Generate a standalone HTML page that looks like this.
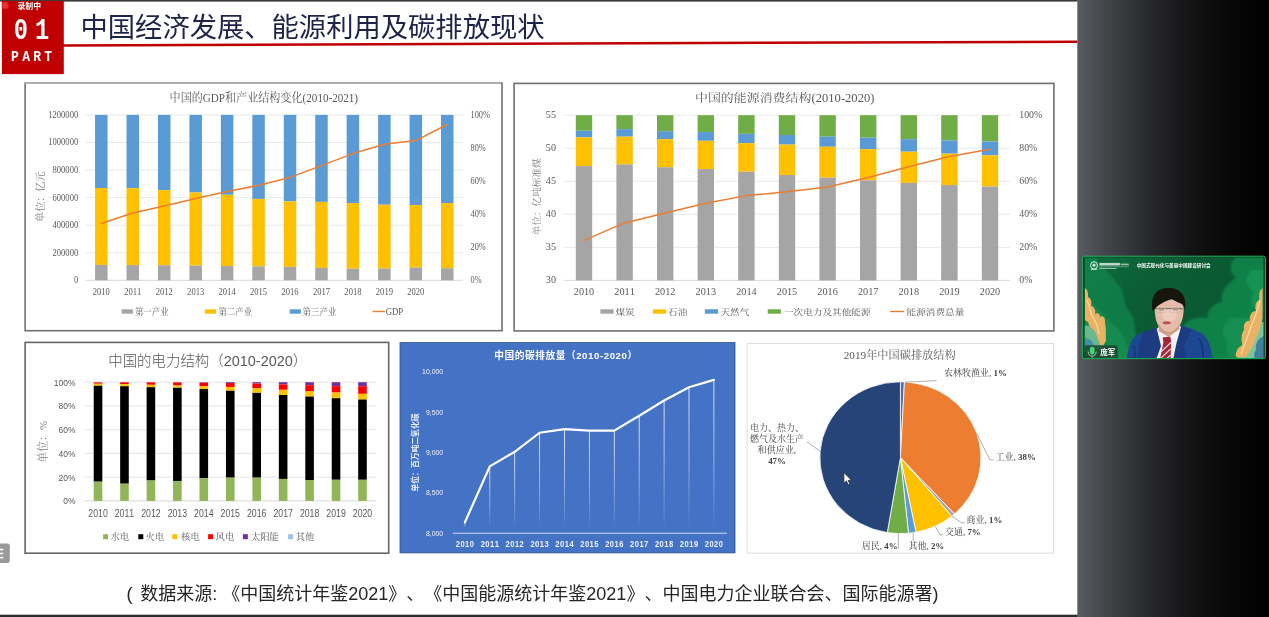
<!DOCTYPE html>
<html lang="zh-CN"><head><meta charset="utf-8"><title>中国经济发展、能源利用及碳排放现状</title>
<style>
html,body{margin:0;padding:0;background:#fff;}
body{width:1269px;height:617px;overflow:hidden;position:relative;font-family:"Liberation Sans", "Noto Sans CJK SC", sans-serif;}
svg{position:absolute;left:0;top:0;display:block;}
text{text-spacing-trim:space-all;font-kerning:none;}
.se{font-family:"Liberation Serif", "Noto Serif CJK SC", serif;}
.sa{font-family:"Liberation Sans", "Noto Sans CJK SC", sans-serif;}
.mo{font-family:"Liberation Mono", "DejaVu Sans Mono", monospace;}
</style></head><body>
<svg width="1269" height="617" viewBox="0 0 1269 617">
<defs>
<linearGradient id="gp" x1="0" y1="0" x2="1" y2="0">
<stop offset="0" stop-color="#585b60"/><stop offset="0.15" stop-color="#434549"/><stop offset="0.38" stop-color="#27282b"/><stop offset="0.6" stop-color="#131314"/><stop offset="0.82" stop-color="#060606"/><stop offset="1" stop-color="#000"/>
</linearGradient>
<linearGradient id="gd" x1="0" y1="0" x2="0" y2="1">
<stop offset="0" stop-color="#fff" stop-opacity="0.9"/><stop offset="0.6" stop-color="#fff" stop-opacity="0.45"/><stop offset="1" stop-color="#fff" stop-opacity="0.03"/>
</linearGradient>
</defs>
<rect x="0" y="0" width="1269" height="617" fill="#fff"/>

<rect x="0" y="0" width="1077.5" height="1.6" fill="#3a3a3a"/>
<polygon points="63,44.3 1077.4,40.4 1077.4,42.9 63,46.8" fill="#c00000"/>
<rect x="1.9" y="1" width="61.9" height="73.1" fill="#c00000"/>
<text class="mo" transform="translate(20.95 38.90) scale(0.7800 1)" font-size="30.4" fill="#fff" text-anchor="middle" font-weight="bold" >0</text>
<text class="mo" transform="translate(42.10 38.90) scale(0.7800 1)" font-size="30.4" fill="#fff" text-anchor="middle" font-weight="bold" >1</text>
<text class="mo" transform="translate(15.00 61.20) scale(0.9200 1)" font-size="14.2" fill="#fff" text-anchor="middle" font-weight="bold" >P</text>
<text class="mo" transform="translate(26.05 61.20) scale(0.9200 1)" font-size="14.2" fill="#fff" text-anchor="middle" font-weight="bold" >A</text>
<text class="mo" transform="translate(37.10 61.20) scale(0.9200 1)" font-size="14.2" fill="#fff" text-anchor="middle" font-weight="bold" >R</text>
<text class="mo" transform="translate(48.15 61.20) scale(0.9200 1)" font-size="14.2" fill="#fff" text-anchor="middle" font-weight="bold" >T</text>
<circle cx="5.2" cy="5.5" r="3.7" fill="#e94040" opacity="0.55"/><circle cx="5.2" cy="5.5" r="2.5" fill="#f03030"/>
<text class="sa" x="17.40" y="8.90" font-size="7.9" fill="#fff" text-anchor="start" font-weight="bold" stroke="#5a0000" stroke-width="0.25" paint-order="stroke">录制中</text>
<text class="sa" x="80.50" y="37.20" font-size="27.3" fill="#1d2447" text-anchor="start" >中国经济发展、能源利用及碳排放现状</text>
<rect x="1077.3" y="0" width="191.7" height="617" fill="url(#gp)"/>
<rect x="0" y="614.7" width="1077.5" height="2.3" fill="#2b2c2f"/>
<rect x="-3" y="543.5" width="12.8" height="19.5" rx="2.2" fill="#9a9a9a"/>
<rect x="0" y="548.7" width="3.3" height="1.6" fill="#fff"/>
<rect x="0" y="552.7" width="3.3" height="1.6" fill="#fff"/>
<rect x="0" y="556.8" width="3.3" height="1.6" fill="#fff"/>
<text class="sa" x="126.60" y="599.60" font-size="18" fill="#262626" text-anchor="start" >(</text>
<text class="sa" x="140.30" y="599.60" font-size="18" fill="#262626" text-anchor="start" >数据来源: 《中国统计年鉴2021》、《中国能源统计年鉴2021》、中国电力企业联合会、国际能源署)</text>
<g id="c1">
<rect x="25.1" y="83.1" width="476.9" height="247.6" fill="#fff" stroke="#707070" stroke-width="1.6"/><rect x="25.1" y="82.3" width="476" height="1.6" fill="#b4b4b4"/>
<line x1="85.6" y1="280.30" x2="463.0" y2="280.30" stroke="#d0d0d0" stroke-width="0.8"/>
<text class="se" transform="translate(78.20 283.30) scale(0.8750 1)" font-size="9.8" fill="#595959" text-anchor="end" >0</text>
<line x1="85.6" y1="252.73" x2="463.0" y2="252.73" stroke="#e3e3e3" stroke-width="0.8"/>
<text class="se" transform="translate(78.20 255.73) scale(0.8750 1)" font-size="9.8" fill="#595959" text-anchor="end" >200000</text>
<line x1="85.6" y1="225.17" x2="463.0" y2="225.17" stroke="#e3e3e3" stroke-width="0.8"/>
<text class="se" transform="translate(78.20 228.17) scale(0.8750 1)" font-size="9.8" fill="#595959" text-anchor="end" >400000</text>
<line x1="85.6" y1="197.60" x2="463.0" y2="197.60" stroke="#e3e3e3" stroke-width="0.8"/>
<text class="se" transform="translate(78.20 200.60) scale(0.8750 1)" font-size="9.8" fill="#595959" text-anchor="end" >600000</text>
<line x1="85.6" y1="170.03" x2="463.0" y2="170.03" stroke="#e3e3e3" stroke-width="0.8"/>
<text class="se" transform="translate(78.20 173.03) scale(0.8750 1)" font-size="9.8" fill="#595959" text-anchor="end" >800000</text>
<line x1="85.6" y1="142.47" x2="463.0" y2="142.47" stroke="#e3e3e3" stroke-width="0.8"/>
<text class="se" transform="translate(78.20 145.47) scale(0.8750 1)" font-size="9.8" fill="#595959" text-anchor="end" >1000000</text>
<line x1="85.6" y1="114.90" x2="463.0" y2="114.90" stroke="#e3e3e3" stroke-width="0.8"/>
<text class="se" transform="translate(78.20 117.90) scale(0.8750 1)" font-size="9.8" fill="#595959" text-anchor="end" >1200000</text>
<text class="se" transform="translate(470.50 283.30) scale(0.8450 1)" font-size="9.8" fill="#595959" text-anchor="start" >0%</text>
<text class="se" transform="translate(470.50 250.22) scale(0.8450 1)" font-size="9.8" fill="#595959" text-anchor="start" >20%</text>
<text class="se" transform="translate(470.50 217.14) scale(0.8450 1)" font-size="9.8" fill="#595959" text-anchor="start" >40%</text>
<text class="se" transform="translate(470.50 184.06) scale(0.8450 1)" font-size="9.8" fill="#595959" text-anchor="start" >60%</text>
<text class="se" transform="translate(470.50 150.98) scale(0.8450 1)" font-size="9.8" fill="#595959" text-anchor="start" >80%</text>
<text class="se" transform="translate(470.50 117.90) scale(0.8450 1)" font-size="9.8" fill="#595959" text-anchor="start" >100%</text>
<rect x="95.07" y="114.90" width="12.50" height="73.11" fill="#5b9bd5"/>
<rect x="95.07" y="188.01" width="12.50" height="76.91" fill="#ffc000"/>
<rect x="95.07" y="264.92" width="12.50" height="15.38" fill="#a5a5a5"/>
<text class="se" transform="translate(101.32 294.90) scale(0.8650 1)" font-size="9.9" fill="#595959" text-anchor="middle" >2010</text>
<rect x="126.52" y="114.90" width="12.50" height="73.27" fill="#5b9bd5"/>
<rect x="126.52" y="188.17" width="12.50" height="76.91" fill="#ffc000"/>
<rect x="126.52" y="265.08" width="12.50" height="15.22" fill="#a5a5a5"/>
<text class="se" transform="translate(132.77 294.90) scale(0.8650 1)" font-size="9.9" fill="#595959" text-anchor="middle" >2011</text>
<rect x="157.97" y="114.90" width="12.50" height="75.26" fill="#5b9bd5"/>
<rect x="157.97" y="190.16" width="12.50" height="75.09" fill="#ffc000"/>
<rect x="157.97" y="265.25" width="12.50" height="15.05" fill="#a5a5a5"/>
<text class="se" transform="translate(164.22 294.90) scale(0.8650 1)" font-size="9.9" fill="#595959" text-anchor="middle" >2012</text>
<rect x="189.43" y="114.90" width="12.50" height="77.57" fill="#5b9bd5"/>
<rect x="189.43" y="192.47" width="12.50" height="73.11" fill="#ffc000"/>
<rect x="189.43" y="265.58" width="12.50" height="14.72" fill="#a5a5a5"/>
<text class="se" transform="translate(195.68 294.90) scale(0.8650 1)" font-size="9.9" fill="#595959" text-anchor="middle" >2013</text>
<rect x="220.88" y="114.90" width="12.50" height="79.89" fill="#5b9bd5"/>
<rect x="220.88" y="194.79" width="12.50" height="71.29" fill="#ffc000"/>
<rect x="220.88" y="266.08" width="12.50" height="14.22" fill="#a5a5a5"/>
<text class="se" transform="translate(227.12 294.90) scale(0.8650 1)" font-size="9.9" fill="#595959" text-anchor="middle" >2014</text>
<rect x="252.32" y="114.90" width="12.50" height="84.02" fill="#5b9bd5"/>
<rect x="252.32" y="198.92" width="12.50" height="67.48" fill="#ffc000"/>
<rect x="252.32" y="266.41" width="12.50" height="13.89" fill="#a5a5a5"/>
<text class="se" transform="translate(258.57 294.90) scale(0.8650 1)" font-size="9.9" fill="#595959" text-anchor="middle" >2015</text>
<rect x="283.77" y="114.90" width="12.50" height="86.50" fill="#5b9bd5"/>
<rect x="283.77" y="201.40" width="12.50" height="65.50" fill="#ffc000"/>
<rect x="283.77" y="266.90" width="12.50" height="13.40" fill="#a5a5a5"/>
<text class="se" transform="translate(290.02 294.90) scale(0.8650 1)" font-size="9.9" fill="#595959" text-anchor="middle" >2016</text>
<rect x="315.23" y="114.90" width="12.50" height="87.00" fill="#5b9bd5"/>
<rect x="315.23" y="201.90" width="12.50" height="65.99" fill="#ffc000"/>
<rect x="315.23" y="267.89" width="12.50" height="12.40" fill="#a5a5a5"/>
<text class="se" transform="translate(321.48 294.90) scale(0.8650 1)" font-size="9.9" fill="#595959" text-anchor="middle" >2017</text>
<rect x="346.67" y="114.90" width="12.50" height="88.16" fill="#5b9bd5"/>
<rect x="346.67" y="203.06" width="12.50" height="65.66" fill="#ffc000"/>
<rect x="346.67" y="268.72" width="12.50" height="11.58" fill="#a5a5a5"/>
<text class="se" transform="translate(352.92 294.90) scale(0.8650 1)" font-size="9.9" fill="#595959" text-anchor="middle" >2018</text>
<rect x="378.12" y="114.90" width="12.50" height="89.81" fill="#5b9bd5"/>
<rect x="378.12" y="204.71" width="12.50" height="63.84" fill="#ffc000"/>
<rect x="378.12" y="268.56" width="12.50" height="11.74" fill="#a5a5a5"/>
<text class="se" transform="translate(384.38 294.90) scale(0.8650 1)" font-size="9.9" fill="#595959" text-anchor="middle" >2019</text>
<rect x="409.57" y="114.90" width="12.50" height="90.14" fill="#5b9bd5"/>
<rect x="409.57" y="205.04" width="12.50" height="62.52" fill="#ffc000"/>
<rect x="409.57" y="267.56" width="12.50" height="12.74" fill="#a5a5a5"/>
<text class="se" transform="translate(415.82 294.90) scale(0.8650 1)" font-size="9.9" fill="#595959" text-anchor="middle" >2020</text>
<rect x="441.02" y="114.90" width="12.50" height="88.16" fill="#5b9bd5"/>
<rect x="441.02" y="203.06" width="12.50" height="65.17" fill="#ffc000"/>
<rect x="441.02" y="268.23" width="12.50" height="12.07" fill="#a5a5a5"/>
<polyline points="101.32,223.50 132.77,213.05 164.22,206.07 195.68,198.57 227.12,191.60 258.57,185.35 290.02,177.42 321.48,165.62 352.92,153.59 384.38,144.33 415.82,140.60 447.27,124.48" fill="none" stroke="#ed7d31" stroke-width="1.5" stroke-linejoin="round" stroke-linecap="round"/>
<text class="se" transform="translate(263.80 101.70) scale(0.9250 1)" font-size="12.0" fill="#595959" text-anchor="middle" >中国的GDP和产业结构变化(2010-2021)</text>
<text class="se" transform="translate(44.20 196.70) rotate(-90)" font-size="10.1" fill="#808080" text-anchor="middle" >单位：亿元</text>
<rect x="121.7" y="309.3" width="11.2" height="4.4" fill="#a5a5a5"/>
<text class="se" transform="translate(134.90 314.50) scale(0.9300 1)" font-size="9.1" fill="#595959" text-anchor="start" >第一产业</text>
<rect x="204.9" y="309.3" width="11.2" height="4.4" fill="#ffc000"/>
<text class="se" transform="translate(218.40 314.50) scale(0.9300 1)" font-size="9.1" fill="#595959" text-anchor="start" >第二产业</text>
<rect x="289.7" y="309.3" width="11.2" height="4.4" fill="#5b9bd5"/>
<text class="se" transform="translate(302.60 314.50) scale(0.9300 1)" font-size="9.1" fill="#595959" text-anchor="start" >第三产业</text>
<line x1="372.5" y1="311.5" x2="384.9" y2="311.5" stroke="#ed7d31" stroke-width="1.4"/>
<text class="se" transform="translate(385.70 314.50) scale(0.9000 1)" font-size="9.7" fill="#595959" text-anchor="start" >GDP</text>
</g>
<g id="c2">
<rect x="514.1" y="83.4" width="539.8" height="247.5" fill="#fff" stroke="#707070" stroke-width="1.6"/>
<line x1="563.7" y1="280.40" x2="1010.3" y2="280.40" stroke="#d0d0d0" stroke-width="0.8"/>
<text class="se" transform="translate(556.00 283.40) scale(1.0350 1)" font-size="9.8" fill="#595959" text-anchor="end" >30</text>
<text class="se" transform="translate(1019.30 283.40) scale(1.0000 1)" font-size="9.8" fill="#595959" text-anchor="start" >0%</text>
<line x1="563.7" y1="247.36" x2="1010.3" y2="247.36" stroke="#e3e3e3" stroke-width="0.8"/>
<text class="se" transform="translate(556.00 250.36) scale(1.0350 1)" font-size="9.8" fill="#595959" text-anchor="end" >35</text>
<text class="se" transform="translate(1019.30 250.36) scale(1.0000 1)" font-size="9.8" fill="#595959" text-anchor="start" >20%</text>
<line x1="563.7" y1="214.32" x2="1010.3" y2="214.32" stroke="#e3e3e3" stroke-width="0.8"/>
<text class="se" transform="translate(556.00 217.32) scale(1.0350 1)" font-size="9.8" fill="#595959" text-anchor="end" >40</text>
<text class="se" transform="translate(1019.30 217.32) scale(1.0000 1)" font-size="9.8" fill="#595959" text-anchor="start" >40%</text>
<line x1="563.7" y1="181.28" x2="1010.3" y2="181.28" stroke="#e3e3e3" stroke-width="0.8"/>
<text class="se" transform="translate(556.00 184.28) scale(1.0350 1)" font-size="9.8" fill="#595959" text-anchor="end" >45</text>
<text class="se" transform="translate(1019.30 184.28) scale(1.0000 1)" font-size="9.8" fill="#595959" text-anchor="start" >60%</text>
<line x1="563.7" y1="148.24" x2="1010.3" y2="148.24" stroke="#e3e3e3" stroke-width="0.8"/>
<text class="se" transform="translate(556.00 151.24) scale(1.0350 1)" font-size="9.8" fill="#595959" text-anchor="end" >50</text>
<text class="se" transform="translate(1019.30 151.24) scale(1.0000 1)" font-size="9.8" fill="#595959" text-anchor="start" >80%</text>
<line x1="563.7" y1="115.20" x2="1010.3" y2="115.20" stroke="#e3e3e3" stroke-width="0.8"/>
<text class="se" transform="translate(556.00 118.20) scale(1.0350 1)" font-size="9.8" fill="#595959" text-anchor="end" >55</text>
<text class="se" transform="translate(1019.30 118.20) scale(1.0000 1)" font-size="9.8" fill="#595959" text-anchor="start" >100%</text>
<rect x="575.80" y="115.20" width="16.40" height="15.53" fill="#70ad47"/>
<rect x="575.80" y="130.73" width="16.40" height="6.61" fill="#5b9bd5"/>
<rect x="575.80" y="137.34" width="16.40" height="28.74" fill="#ffc000"/>
<rect x="575.80" y="166.08" width="16.40" height="114.32" fill="#a5a5a5"/>
<text class="se" transform="translate(584.00 294.90) scale(1.0350 1)" font-size="9.9" fill="#595959" text-anchor="middle" >2010</text>
<rect x="616.40" y="115.20" width="16.40" height="13.88" fill="#70ad47"/>
<rect x="616.40" y="129.08" width="16.40" height="7.60" fill="#5b9bd5"/>
<rect x="616.40" y="136.68" width="16.40" height="27.75" fill="#ffc000"/>
<rect x="616.40" y="164.43" width="16.40" height="115.97" fill="#a5a5a5"/>
<text class="se" transform="translate(624.60 294.90) scale(1.0350 1)" font-size="9.9" fill="#595959" text-anchor="middle" >2011</text>
<rect x="657.00" y="115.20" width="16.40" height="16.02" fill="#70ad47"/>
<rect x="657.00" y="131.22" width="16.40" height="7.93" fill="#5b9bd5"/>
<rect x="657.00" y="139.15" width="16.40" height="28.08" fill="#ffc000"/>
<rect x="657.00" y="167.24" width="16.40" height="113.16" fill="#a5a5a5"/>
<text class="se" transform="translate(665.20 294.90) scale(1.0350 1)" font-size="9.9" fill="#595959" text-anchor="middle" >2012</text>
<rect x="697.60" y="115.20" width="16.40" height="16.85" fill="#70ad47"/>
<rect x="697.60" y="132.05" width="16.40" height="8.76" fill="#5b9bd5"/>
<rect x="697.60" y="140.81" width="16.40" height="28.25" fill="#ffc000"/>
<rect x="697.60" y="169.06" width="16.40" height="111.34" fill="#a5a5a5"/>
<text class="se" transform="translate(705.80 294.90) scale(1.0350 1)" font-size="9.9" fill="#595959" text-anchor="middle" >2013</text>
<rect x="738.20" y="115.20" width="16.40" height="18.67" fill="#70ad47"/>
<rect x="738.20" y="133.87" width="16.40" height="9.25" fill="#5b9bd5"/>
<rect x="738.20" y="143.12" width="16.40" height="28.58" fill="#ffc000"/>
<rect x="738.20" y="171.70" width="16.40" height="108.70" fill="#a5a5a5"/>
<text class="se" transform="translate(746.40 294.90) scale(1.0350 1)" font-size="9.9" fill="#595959" text-anchor="middle" >2014</text>
<rect x="778.80" y="115.20" width="16.40" height="19.82" fill="#70ad47"/>
<rect x="778.80" y="135.02" width="16.40" height="9.58" fill="#5b9bd5"/>
<rect x="778.80" y="144.61" width="16.40" height="30.40" fill="#ffc000"/>
<rect x="778.80" y="175.00" width="16.40" height="105.40" fill="#a5a5a5"/>
<text class="se" transform="translate(787.00 294.90) scale(1.0350 1)" font-size="9.9" fill="#595959" text-anchor="middle" >2015</text>
<rect x="819.40" y="115.20" width="16.40" height="21.48" fill="#70ad47"/>
<rect x="819.40" y="136.68" width="16.40" height="10.08" fill="#5b9bd5"/>
<rect x="819.40" y="146.75" width="16.40" height="30.89" fill="#ffc000"/>
<rect x="819.40" y="177.65" width="16.40" height="102.75" fill="#a5a5a5"/>
<text class="se" transform="translate(827.60 294.90) scale(1.0350 1)" font-size="9.9" fill="#595959" text-anchor="middle" >2016</text>
<rect x="860.00" y="115.20" width="16.40" height="22.47" fill="#70ad47"/>
<rect x="860.00" y="137.67" width="16.40" height="11.40" fill="#5b9bd5"/>
<rect x="860.00" y="149.07" width="16.40" height="31.22" fill="#ffc000"/>
<rect x="860.00" y="180.29" width="16.40" height="100.11" fill="#a5a5a5"/>
<text class="se" transform="translate(868.20 294.90) scale(1.0350 1)" font-size="9.9" fill="#595959" text-anchor="middle" >2017</text>
<rect x="900.60" y="115.20" width="16.40" height="23.95" fill="#70ad47"/>
<rect x="900.60" y="139.15" width="16.40" height="12.56" fill="#5b9bd5"/>
<rect x="900.60" y="151.71" width="16.40" height="31.22" fill="#ffc000"/>
<rect x="900.60" y="182.93" width="16.40" height="97.47" fill="#a5a5a5"/>
<text class="se" transform="translate(908.80 294.90) scale(1.0350 1)" font-size="9.9" fill="#595959" text-anchor="middle" >2018</text>
<rect x="941.20" y="115.20" width="16.40" height="25.28" fill="#70ad47"/>
<rect x="941.20" y="140.48" width="16.40" height="13.22" fill="#5b9bd5"/>
<rect x="941.20" y="153.69" width="16.40" height="31.39" fill="#ffc000"/>
<rect x="941.20" y="185.08" width="16.40" height="95.32" fill="#a5a5a5"/>
<text class="se" transform="translate(949.40 294.90) scale(1.0350 1)" font-size="9.9" fill="#595959" text-anchor="middle" >2019</text>
<rect x="981.80" y="115.20" width="16.40" height="26.27" fill="#70ad47"/>
<rect x="981.80" y="141.47" width="16.40" height="13.88" fill="#5b9bd5"/>
<rect x="981.80" y="155.34" width="16.40" height="31.22" fill="#ffc000"/>
<rect x="981.80" y="186.57" width="16.40" height="93.83" fill="#a5a5a5"/>
<text class="se" transform="translate(990.00 294.90) scale(1.0350 1)" font-size="9.9" fill="#595959" text-anchor="middle" >2020</text>
<polyline points="584.00,240.36 624.60,222.91 665.20,212.93 705.80,203.15 746.40,195.62 787.00,191.79 827.60,186.90 868.20,177.45 908.80,166.81 949.40,156.50 990.00,149.36" fill="none" stroke="#ed7d31" stroke-width="1.5" stroke-linejoin="round" stroke-linecap="round"/>
<text class="se" transform="translate(695.00 101.50) scale(1.1660 1)" font-size="11.1" fill="#595959" text-anchor="start" >中国的能源消费结构</text>
<text class="se" transform="translate(811.60 101.70) scale(1.0300 1)" font-size="12.2" fill="#595959" text-anchor="start" >(2010-2020)</text>
<text class="se" transform="translate(539.90 196.80) rotate(-90)" font-size="9.6" fill="#808080" text-anchor="middle" >单位：亿吨标准煤</text>
<rect x="600.4" y="309.3" width="13.2" height="4.4" fill="#a5a5a5"/>
<text class="se" transform="translate(615.40 314.60) scale(1.1340 1)" font-size="8.5" fill="#595959" text-anchor="start" >煤炭</text>
<rect x="653.0" y="309.3" width="13.2" height="4.4" fill="#ffc000"/>
<text class="se" transform="translate(668.00 314.60) scale(1.1340 1)" font-size="8.5" fill="#595959" text-anchor="start" >石油</text>
<rect x="704.9" y="309.3" width="13.2" height="4.4" fill="#5b9bd5"/>
<text class="se" transform="translate(720.40 314.60) scale(1.1340 1)" font-size="8.5" fill="#595959" text-anchor="start" >天然气</text>
<rect x="767.7" y="309.3" width="13.2" height="4.4" fill="#70ad47"/>
<text class="se" transform="translate(783.90 314.60) scale(1.1340 1)" font-size="8.5" fill="#595959" text-anchor="start" >一次电力及其他能源</text>
<line x1="890.2" y1="311.5" x2="904" y2="311.5" stroke="#ed7d31" stroke-width="1.4"/>
<text class="se" transform="translate(906.50 314.60) scale(1.1340 1)" font-size="8.5" fill="#595959" text-anchor="start" >能源消费总量</text>
</g>
<g id="c3">
<rect x="25.1" y="342.4" width="363.6" height="210.8" fill="#fff" stroke="#666" stroke-width="1.6"/>
<line x1="84.8" y1="500.90" x2="375.7" y2="500.90" stroke="#d4d4d4" stroke-width="0.9"/>
<text class="sa" transform="translate(75.40 504.30) scale(0.8700 1)" font-size="9.7" fill="#595959" text-anchor="end" >0%</text>
<line x1="84.8" y1="477.16" x2="375.7" y2="477.16" stroke="#e1e1e1" stroke-width="0.9"/>
<text class="sa" transform="translate(75.40 480.56) scale(0.8700 1)" font-size="9.7" fill="#595959" text-anchor="end" >20%</text>
<line x1="84.8" y1="453.42" x2="375.7" y2="453.42" stroke="#e1e1e1" stroke-width="0.9"/>
<text class="sa" transform="translate(75.40 456.82) scale(0.8700 1)" font-size="9.7" fill="#595959" text-anchor="end" >40%</text>
<line x1="84.8" y1="429.68" x2="375.7" y2="429.68" stroke="#e1e1e1" stroke-width="0.9"/>
<text class="sa" transform="translate(75.40 433.08) scale(0.8700 1)" font-size="9.7" fill="#595959" text-anchor="end" >60%</text>
<line x1="84.8" y1="405.94" x2="375.7" y2="405.94" stroke="#e1e1e1" stroke-width="0.9"/>
<text class="sa" transform="translate(75.40 409.34) scale(0.8700 1)" font-size="9.7" fill="#595959" text-anchor="end" >80%</text>
<line x1="84.8" y1="382.20" x2="375.7" y2="382.20" stroke="#e1e1e1" stroke-width="0.9"/>
<text class="sa" transform="translate(75.40 385.60) scale(0.8700 1)" font-size="9.7" fill="#595959" text-anchor="end" >100%</text>
<rect x="93.72" y="382.20" width="8.60" height="0.24" fill="#7030a0"/>
<rect x="93.72" y="382.44" width="8.60" height="1.31" fill="#ff0000"/>
<rect x="93.72" y="383.74" width="8.60" height="2.02" fill="#ffc000"/>
<rect x="93.72" y="385.76" width="8.60" height="95.91" fill="#000000"/>
<rect x="93.72" y="481.67" width="8.60" height="19.23" fill="#92b558"/>
<text class="sa" transform="translate(98.02 517.40) scale(0.8750 1)" font-size="10.0" fill="#595959" text-anchor="middle" >2010</text>
<rect x="120.17" y="382.20" width="8.60" height="0.12" fill="#7030a0"/>
<rect x="120.17" y="382.32" width="8.60" height="1.78" fill="#ff0000"/>
<rect x="120.17" y="384.10" width="8.60" height="2.14" fill="#ffc000"/>
<rect x="120.17" y="386.24" width="8.60" height="97.45" fill="#000000"/>
<rect x="120.17" y="483.69" width="8.60" height="17.21" fill="#92b558"/>
<text class="sa" transform="translate(124.47 517.40) scale(0.8750 1)" font-size="10.0" fill="#595959" text-anchor="middle" >2011</text>
<rect x="146.61" y="382.20" width="8.60" height="0.12" fill="#7030a0"/>
<rect x="146.61" y="382.32" width="8.60" height="2.49" fill="#ff0000"/>
<rect x="146.61" y="384.81" width="8.60" height="2.37" fill="#ffc000"/>
<rect x="146.61" y="387.19" width="8.60" height="93.30" fill="#000000"/>
<rect x="146.61" y="480.48" width="8.60" height="20.42" fill="#92b558"/>
<text class="sa" transform="translate(150.91 517.40) scale(0.8750 1)" font-size="10.0" fill="#595959" text-anchor="middle" >2012</text>
<rect x="173.06" y="382.20" width="8.60" height="0.24" fill="#7030a0"/>
<rect x="173.06" y="382.44" width="8.60" height="2.97" fill="#ff0000"/>
<rect x="173.06" y="385.40" width="8.60" height="2.37" fill="#ffc000"/>
<rect x="173.06" y="387.78" width="8.60" height="93.18" fill="#000000"/>
<rect x="173.06" y="480.96" width="8.60" height="19.94" fill="#92b558"/>
<text class="sa" transform="translate(177.36 517.40) scale(0.8750 1)" font-size="10.0" fill="#595959" text-anchor="middle" >2013</text>
<rect x="199.50" y="382.20" width="8.60" height="0.12" fill="#9dc3e6"/>
<rect x="199.50" y="382.32" width="8.60" height="0.59" fill="#7030a0"/>
<rect x="199.50" y="382.91" width="8.60" height="3.44" fill="#ff0000"/>
<rect x="199.50" y="386.35" width="8.60" height="2.73" fill="#ffc000"/>
<rect x="199.50" y="389.08" width="8.60" height="89.26" fill="#000000"/>
<rect x="199.50" y="478.35" width="8.60" height="22.55" fill="#92b558"/>
<text class="sa" transform="translate(203.80 517.40) scale(0.8750 1)" font-size="10.0" fill="#595959" text-anchor="middle" >2014</text>
<rect x="225.95" y="382.20" width="8.60" height="0.83" fill="#7030a0"/>
<rect x="225.95" y="383.03" width="8.60" height="3.92" fill="#ff0000"/>
<rect x="225.95" y="386.95" width="8.60" height="3.80" fill="#ffc000"/>
<rect x="225.95" y="390.75" width="8.60" height="86.89" fill="#000000"/>
<rect x="225.95" y="477.63" width="8.60" height="23.27" fill="#92b558"/>
<text class="sa" transform="translate(230.25 517.40) scale(0.8750 1)" font-size="10.0" fill="#595959" text-anchor="middle" >2015</text>
<rect x="252.40" y="382.20" width="8.60" height="1.42" fill="#7030a0"/>
<rect x="252.40" y="383.62" width="8.60" height="4.51" fill="#ff0000"/>
<rect x="252.40" y="388.13" width="8.60" height="4.75" fill="#ffc000"/>
<rect x="252.40" y="392.88" width="8.60" height="84.75" fill="#000000"/>
<rect x="252.40" y="477.63" width="8.60" height="23.27" fill="#92b558"/>
<text class="sa" transform="translate(256.70 517.40) scale(0.8750 1)" font-size="10.0" fill="#595959" text-anchor="middle" >2016</text>
<rect x="278.84" y="382.20" width="8.60" height="2.26" fill="#7030a0"/>
<rect x="278.84" y="384.46" width="8.60" height="5.34" fill="#ff0000"/>
<rect x="278.84" y="389.80" width="8.60" height="5.22" fill="#ffc000"/>
<rect x="278.84" y="395.02" width="8.60" height="83.92" fill="#000000"/>
<rect x="278.84" y="478.94" width="8.60" height="21.96" fill="#92b558"/>
<text class="sa" transform="translate(283.14 517.40) scale(0.8750 1)" font-size="10.0" fill="#595959" text-anchor="middle" >2017</text>
<rect x="305.29" y="382.20" width="8.60" height="2.97" fill="#7030a0"/>
<rect x="305.29" y="385.17" width="8.60" height="6.29" fill="#ff0000"/>
<rect x="305.29" y="391.46" width="8.60" height="5.10" fill="#ffc000"/>
<rect x="305.29" y="396.56" width="8.60" height="83.45" fill="#000000"/>
<rect x="305.29" y="480.01" width="8.60" height="20.89" fill="#92b558"/>
<text class="sa" transform="translate(309.59 517.40) scale(0.8750 1)" font-size="10.0" fill="#595959" text-anchor="middle" >2018</text>
<rect x="331.73" y="382.20" width="8.60" height="3.92" fill="#7030a0"/>
<rect x="331.73" y="386.12" width="8.60" height="6.41" fill="#ff0000"/>
<rect x="331.73" y="392.53" width="8.60" height="5.70" fill="#ffc000"/>
<rect x="331.73" y="398.22" width="8.60" height="81.55" fill="#000000"/>
<rect x="331.73" y="479.77" width="8.60" height="21.13" fill="#92b558"/>
<text class="sa" transform="translate(336.03 517.40) scale(0.8750 1)" font-size="10.0" fill="#595959" text-anchor="middle" >2019</text>
<rect x="358.18" y="382.20" width="8.60" height="4.04" fill="#7030a0"/>
<rect x="358.18" y="386.24" width="8.60" height="7.60" fill="#ff0000"/>
<rect x="358.18" y="393.83" width="8.60" height="5.70" fill="#ffc000"/>
<rect x="358.18" y="399.53" width="8.60" height="80.24" fill="#000000"/>
<rect x="358.18" y="479.77" width="8.60" height="21.13" fill="#92b558"/>
<text class="sa" transform="translate(362.48 517.40) scale(0.8750 1)" font-size="10.0" fill="#595959" text-anchor="middle" >2020</text>
<text class="sa" x="207.70" y="366.00" font-size="14.45" fill="#595959" text-anchor="middle" font-weight="300" >中国的电力结构（2010-2020）</text>
<text class="se" transform="translate(47.20 441.80) rotate(-90)" font-size="10.9" fill="#808080" text-anchor="middle" >单位：%</text>
<rect x="103.1" y="534.2" width="5" height="5" fill="#92b558"/>
<text class="se" x="110.50" y="540.00" font-size="9.3" fill="#595959" text-anchor="start" >水电</text>
<rect x="138.3" y="534.2" width="5" height="5" fill="#000"/>
<text class="se" x="145.50" y="540.00" font-size="9.3" fill="#595959" text-anchor="start" >火电</text>
<rect x="172.3" y="534.2" width="5" height="5" fill="#ffc000"/>
<text class="se" x="181.10" y="540.00" font-size="9.3" fill="#595959" text-anchor="start" >核电</text>
<rect x="208.1" y="534.2" width="5" height="5" fill="#ff0000"/>
<text class="se" x="215.60" y="540.00" font-size="9.3" fill="#595959" text-anchor="start" >风电</text>
<rect x="242.9" y="534.2" width="5" height="5" fill="#7030a0"/>
<text class="se" x="251.00" y="540.00" font-size="9.3" fill="#595959" text-anchor="start" >太阳能</text>
<rect x="288.1" y="534.2" width="5" height="5" fill="#9dc3e6"/>
<text class="se" x="295.70" y="540.00" font-size="9.3" fill="#595959" text-anchor="start" >其他</text>
</g>
<g id="c4">
<rect x="400" y="342.6" width="335" height="210.3" fill="#4472c4" stroke="#2f4f8f" stroke-width="0.8"/>
<rect x="464.45" y="522.25" width="0.9" height="4.95" fill="url(#gd)"/>
<rect x="489.35" y="466.42" width="0.9" height="60.78" fill="url(#gd)"/>
<rect x="514.25" y="451.76" width="0.9" height="75.44" fill="url(#gd)"/>
<rect x="539.15" y="432.75" width="0.9" height="94.45" fill="url(#gd)"/>
<rect x="564.05" y="429.13" width="0.9" height="98.07" fill="url(#gd)"/>
<rect x="588.95" y="430.58" width="0.9" height="96.62" fill="url(#gd)"/>
<rect x="613.85" y="430.58" width="0.9" height="96.62" fill="url(#gd)"/>
<rect x="638.75" y="415.76" width="0.9" height="111.44" fill="url(#gd)"/>
<rect x="663.65" y="400.45" width="0.9" height="126.75" fill="url(#gd)"/>
<rect x="688.55" y="387.24" width="0.9" height="139.96" fill="url(#gd)"/>
<rect x="713.45" y="379.83" width="0.9" height="147.37" fill="url(#gd)"/>
<line x1="452.7" y1="533.20" x2="726.8" y2="533.20" stroke="#cfdaf0" stroke-width="1.1"/>
<polyline points="464.90,522.25 489.80,466.42 514.70,451.76 539.60,432.75 564.50,429.13 589.40,430.58 614.30,430.58 639.20,415.76 664.10,400.45 689.00,387.24 713.90,379.83" fill="none" stroke="#fff" stroke-width="2.2" stroke-linejoin="round" stroke-linecap="round"/>
<text class="sa" transform="translate(443.20 535.50) scale(0.9000 1)" font-size="7.7" fill="#eef2fa" text-anchor="end" >8,000</text>
<text class="sa" transform="translate(443.20 495.23) scale(0.9000 1)" font-size="7.7" fill="#eef2fa" text-anchor="end" >8,500</text>
<text class="sa" transform="translate(443.20 454.95) scale(0.9000 1)" font-size="7.7" fill="#eef2fa" text-anchor="end" >9,000</text>
<text class="sa" transform="translate(443.20 414.68) scale(0.9000 1)" font-size="7.7" fill="#eef2fa" text-anchor="end" >9,500</text>
<text class="sa" transform="translate(443.20 374.40) scale(0.9000 1)" font-size="7.7" fill="#eef2fa" text-anchor="end" >10,000</text>
<text class="sa" transform="translate(465.10 547.20) scale(0.8900 1)" font-size="8.5" fill="#eef2fa" text-anchor="middle" font-weight="bold" letter-spacing="0.55" >2010</text>
<text class="sa" transform="translate(490.00 547.20) scale(0.8900 1)" font-size="8.5" fill="#eef2fa" text-anchor="middle" font-weight="bold" letter-spacing="0.55" >2011</text>
<text class="sa" transform="translate(514.90 547.20) scale(0.8900 1)" font-size="8.5" fill="#eef2fa" text-anchor="middle" font-weight="bold" letter-spacing="0.55" >2012</text>
<text class="sa" transform="translate(539.80 547.20) scale(0.8900 1)" font-size="8.5" fill="#eef2fa" text-anchor="middle" font-weight="bold" letter-spacing="0.55" >2013</text>
<text class="sa" transform="translate(564.70 547.20) scale(0.8900 1)" font-size="8.5" fill="#eef2fa" text-anchor="middle" font-weight="bold" letter-spacing="0.55" >2014</text>
<text class="sa" transform="translate(589.60 547.20) scale(0.8900 1)" font-size="8.5" fill="#eef2fa" text-anchor="middle" font-weight="bold" letter-spacing="0.55" >2015</text>
<text class="sa" transform="translate(614.50 547.20) scale(0.8900 1)" font-size="8.5" fill="#eef2fa" text-anchor="middle" font-weight="bold" letter-spacing="0.55" >2016</text>
<text class="sa" transform="translate(639.40 547.20) scale(0.8900 1)" font-size="8.5" fill="#eef2fa" text-anchor="middle" font-weight="bold" letter-spacing="0.55" >2017</text>
<text class="sa" transform="translate(664.30 547.20) scale(0.8900 1)" font-size="8.5" fill="#eef2fa" text-anchor="middle" font-weight="bold" letter-spacing="0.55" >2018</text>
<text class="sa" transform="translate(689.20 547.20) scale(0.8900 1)" font-size="8.5" fill="#eef2fa" text-anchor="middle" font-weight="bold" letter-spacing="0.55" >2019</text>
<text class="sa" transform="translate(714.10 547.20) scale(0.8900 1)" font-size="8.5" fill="#eef2fa" text-anchor="middle" font-weight="bold" letter-spacing="0.55" >2020</text>
<text class="sa" x="566.00" y="358.60" font-size="9.7" fill="#fff" text-anchor="middle" font-weight="bold" letter-spacing="0.55" >中国的碳排放量（2010-2020）</text>
<text class="sa" transform="translate(418.00 452.50) rotate(-90)" font-size="7.8" fill="#e8eefa" text-anchor="middle" font-weight="bold" >单位：百万吨二氧化碳</text>
</g>
<g id="c5">
<rect x="747.1" y="343.5" width="306.6" height="209.6" fill="#fff" stroke="#dedede" stroke-width="1"/>
<path d="M900.40 457.70 L900.40 381.80 A80.60 75.90 0 0 1 904.45 381.90 Z" fill="#4472c4" stroke="#fff" stroke-width="0.8" stroke-linejoin="round"/>
<path d="M900.40 457.70 L904.45 381.90 A80.60 75.90 0 0 1 954.46 514.00 Z" fill="#ed7d31" stroke="#fff" stroke-width="0.8" stroke-linejoin="round"/>
<path d="M900.40 457.70 L954.46 514.00 A80.60 75.90 0 0 1 951.78 516.18 Z" fill="#a5a5a5" stroke="#fff" stroke-width="0.8" stroke-linejoin="round"/>
<path d="M900.40 457.70 L951.78 516.18 A80.60 75.90 0 0 1 916.00 532.16 Z" fill="#ffc000" stroke="#fff" stroke-width="0.8" stroke-linejoin="round"/>
<path d="M900.40 457.70 L916.00 532.16 A80.60 75.90 0 0 1 908.49 533.22 Z" fill="#5b9bd5" stroke="#fff" stroke-width="0.8" stroke-linejoin="round"/>
<path d="M900.40 457.70 L908.49 533.22 A80.60 75.90 0 0 1 887.29 532.59 Z" fill="#70ad47" stroke="#fff" stroke-width="0.8" stroke-linejoin="round"/>
<path d="M900.40 457.70 L887.29 532.59 A80.60 75.90 0 0 1 900.40 381.80 Z" fill="#264478" stroke="#fff" stroke-width="0.8" stroke-linejoin="round"/>
<polyline points="905,382.2 936.7,380.6" stroke="#8c8c8c" stroke-width="0.7" fill="none"/>
<polyline points="976.4,432.7 989.8,459.8 993.4,459.8" stroke="#8c8c8c" stroke-width="0.7" fill="none"/>
<polyline points="951.5,515.6 961.3,522.7 964.9,522.7" stroke="#8c8c8c" stroke-width="0.7" fill="none"/>
<polyline points="935.4,526.6 939.9,534.7 943.1,534.7" stroke="#8c8c8c" stroke-width="0.7" fill="none"/>
<polyline points="913.2,532.9 913.2,540.9" stroke="#8c8c8c" stroke-width="0.7" fill="none"/>
<polyline points="898.3,533.4 898.3,548.9" stroke="#8c8c8c" stroke-width="0.7" fill="none"/>
<polyline points="806.8,441.6 820.5,451.5" stroke="#8c8c8c" stroke-width="0.7" fill="none"/>
<text class="se" x="899.70" y="358.60" font-size="11.2" fill="#595959" text-anchor="middle" >2019年中国碳排放结构</text>
<text class="se" x="944.00" y="376.10" font-size="9.0" fill="#404040" text-anchor="start" >农林牧渔业, <tspan font-weight="bold" font-size="8.9">1%</tspan></text>
<text class="se" x="995.50" y="460.20" font-size="9.0" fill="#404040" text-anchor="start" >工业, <tspan font-weight="bold" font-size="8.9">38%</tspan></text>
<text class="se" x="966.60" y="523.00" font-size="9.0" fill="#404040" text-anchor="start" >商业, <tspan font-weight="bold" font-size="8.9">1%</tspan></text>
<text class="se" x="944.90" y="535.10" font-size="9.0" fill="#404040" text-anchor="start" >交通, <tspan font-weight="bold" font-size="8.9">7%</tspan></text>
<text class="se" x="908.40" y="548.80" font-size="9.0" fill="#404040" text-anchor="start" >其他, <tspan font-weight="bold" font-size="8.9">2%</tspan></text>
<text class="se" x="861.70" y="548.80" font-size="9.0" fill="#404040" text-anchor="start" >居民, <tspan font-weight="bold" font-size="8.9">4%</tspan></text>
<text class="se" x="777.00" y="430.60" font-size="9.0" fill="#404040" text-anchor="middle" >电力、热力、</text>
<text class="se" x="777.00" y="441.80" font-size="9.0" fill="#404040" text-anchor="middle" >燃气及水生产</text>
<text class="se" x="777.00" y="453.10" font-size="9.0" fill="#404040" text-anchor="middle" >和供应业,</text>
<text class="se" x="777.00" y="464.30" font-size="9.0" fill="#404040" text-anchor="middle" ><tspan font-weight="bold" font-size="8.9">47%</tspan></text>
<path d="M843.9 472.6 L843.9 483.2 L846.4 480.9 L848.2 484.8 L849.8 484.1 L848.1 480.3 L851.4 480.2 Z" fill="#fff" stroke="#222" stroke-width="0.7" stroke-linejoin="round"/>
</g>
<g id="vid">
<defs><clipPath id="vc"><rect x="1082.3" y="256.2" width="183.1" height="102.5" rx="2"/></clipPath><clipPath id="vc2"><rect x="1084.8" y="257.6" width="178.6" height="100.4"/></clipPath><filter id="b1" x="-10%" y="-10%" width="120%" height="120%"><feGaussianBlur stdDeviation="0.55"/></filter><filter id="b2" x="-10%" y="-10%" width="120%" height="120%"><feGaussianBlur stdDeviation="1.3"/></filter><linearGradient id="vg" x1="0" y1="0" x2="1" y2="0.6"><stop offset="0" stop-color="#0e7040"/><stop offset="0.35" stop-color="#0b5e35"/><stop offset="0.7" stop-color="#0a5932"/><stop offset="1" stop-color="#0c6a3b"/></linearGradient></defs>
<rect x="1082.3" y="256.2" width="183.1" height="102.5" rx="2" fill="#0a4427"/>
<g clip-path="url(#vc2)">
<rect x="1084" y="257" width="181" height="102" fill="url(#vg)"/>
<g filter="url(#b2)">
<path d="M1084 258 L1096 258 C1100 268 1110 272 1116 282 C1126 290 1122 304 1130 312 C1138 322 1132 334 1140 344 L1146 360 L1084 360 Z" fill="#12864c" opacity="0.75"/>
<path d="M1084 300 C1096 304 1104 316 1112 324 C1122 330 1128 342 1130 360 L1084 360 Z" fill="#189556" opacity="0.6"/>
<path d="M1236 257 C1228 264 1230 274 1236 278 C1226 284 1220 292 1222 302 C1212 304 1206 312 1208 318 C1196 316 1186 320 1182 328 L1215 360 L1266 360 L1266 257 Z" fill="#138a4e" opacity="0.8"/>
<path d="M1252 270 C1244 276 1246 288 1254 292 C1248 300 1252 310 1262 312 L1266 312 L1266 270 Z" fill="#1a9a5a" opacity="0.7"/>
<path d="M1232 318 C1222 322 1220 336 1228 342 C1224 350 1228 358 1236 360 L1250 360 L1250 318 Z" fill="#169355" opacity="0.7"/>
</g>
<g filter="url(#b1)">
<path d="M1084 326 C1090 324 1096 328 1098 334 C1104 336 1106 344 1102 350 L1084 352 Z" fill="#6ab88c"/>
<path d="M1084 338 C1090 338 1094 342 1094 348 L1084 350 Z" fill="#3f93a0"/>
<path d="M1264 322 C1256 322 1250 328 1250 336 C1244 338 1240 346 1242 352 C1238 354 1236 358 1238 360 L1264 360 Z" fill="#79c79a"/>
<path d="M1264 336 C1258 338 1255 344 1256 350 C1253 354 1254 358 1256 360 L1264 360 Z" fill="#3f809c"/>
<path d="M1084.5 288 C1087.5 289 1088.5 293 1088 297 C1091 298 1092 302 1091 306 C1094.5 306.5 1096 311 1095 314.5 C1097 312 1100 313 1100 317 C1103 315 1105.5 318 1105 323 C1106.5 328 1105.5 334 1106 340 C1105 344 1103 346 1100 345 C1098 340 1097 334 1094 330 C1091 328 1089 326 1088 322 L1084.5 320 Z" fill="#e9b265"/>
<path d="M1087 300 C1089 304 1090 310 1092 316 C1095 320 1098 326 1099 334" stroke="#f7dba2" stroke-width="1.2" fill="none"/>
<path d="M1262.5 288 C1259.5 290 1258.5 295 1259.5 300 C1256 301 1254.5 306 1256 311 C1251.5 311 1249 316 1250 321 C1246 320 1243 324 1244 330 C1241 334 1241 340 1242.5 345 C1238 347 1235 352 1236 357 L1246 357 C1250 350 1254 346 1256 338 C1259 332 1261 326 1262.5 318 Z" fill="#e9b265"/>
<path d="M1260 300 C1258 308 1256 316 1252 324 C1249 332 1246 342 1241 354" stroke="#f7dba2" stroke-width="1.3" fill="none"/>
<path d="M1126.5 360 C1128 350 1130 343 1133.3 338.5 C1137 334.5 1140 333 1144 331.9 L1156 327.9 L1181.2 325.9 C1186 326.5 1190 327.8 1194.5 329.9 C1199 331.6 1202.5 333.4 1205.1 335.9 C1209 341 1211 348 1211.8 354.5 L1212.8 360 Z" fill="#1f4692"/>
<path d="M1144 331.9 L1156 327.9 L1162 346 L1156 360 L1138 360 C1138 348 1140 339 1144 331.9 Z" fill="#1a3b80"/>
<path d="M1181.2 325.9 L1192 329.5 L1184 345 L1187 360 L1174 360 L1173 344 Z" fill="#1a3b80"/>
<path d="M1199 338 C1202.5 344 1203.5 352 1203.5 360" stroke="#15306c" stroke-width="1.3" fill="none"/>
<path d="M1134 346 C1135 351 1135 356 1134.5 360" stroke="#15306c" stroke-width="1.1" fill="none"/>
<path d="M1156.8 329 L1160 326 L1179 324.5 L1181 327 L1176.5 343 L1173 360 L1156 360 L1161 346 Z" fill="#f3f3f6"/>
<path d="M1162.6 337.6 L1170.3 336.6 L1171.2 341.4 L1170.6 360 L1159.8 360 L1163.4 342.2 Z" fill="#a5263a"/>
<path d="M1161.4 351.5 L1170.9 342.5 M1160.3 358.5 L1170.8 348.8 M1165 360 L1170.7 355" stroke="#eadcde" stroke-width="1.15" fill="none"/>
<path d="M1159 322 L1178.6 322 L1179.6 329 L1168.6 337 L1158.6 331 Z" fill="#d3a088"/>
<path d="M1154.7 307 C1154.4 299.5 1159.5 295 1168.6 295 C1178.5 295 1183.8 299.5 1183.6 307 C1183.9 314 1182.8 320 1180 325.3 C1177.5 330 1173.5 333.4 1169 333.4 C1164.4 333.4 1160.6 330 1158 325.3 C1155.6 320 1154.5 314 1154.7 307 Z" fill="#e4bca8"/>
<ellipse cx="1169.4" cy="314.5" rx="7.5" ry="7" fill="#f0d2c4" opacity="0.75"/>
<path d="M1157.4 321 C1159.5 327 1163.5 331.6 1169 332 C1174.5 331.6 1178.6 327 1180.6 321 C1180 327.6 1176 333.4 1169 333.5 C1162 333.4 1158 327.6 1157.4 321 Z" fill="#cb9a84"/>
<path d="M1152.6 311 C1150.2 297.5 1155.4 288 1168.4 288 C1180.4 288 1187.4 296 1184.8 309.4 C1184 307 1183 305 1181.4 303.8 C1178 302.4 1174.5 300.6 1171.6 299.2 C1166.5 300.6 1160.5 303.2 1156.4 307 C1155 308.6 1153.8 310 1152.6 311 Z" fill="#15120f"/>
<path d="M1154.6 308.6 L1182.6 308.6" stroke="#4d403d" stroke-width="1" opacity="0.8"/>
<rect x="1156.4" y="307.4" width="10.2" height="4.8" rx="1.8" fill="#f8ece6" opacity="0.3" stroke="#6a5a56" stroke-width="0.55"/>
<rect x="1170.2" y="307.4" width="10.2" height="4.8" rx="1.8" fill="#f8ece6" opacity="0.3" stroke="#6a5a56" stroke-width="0.55"/>
<path d="M1158.8 309.9 L1164.4 309.9 M1172.6 309.9 L1178.2 309.9" stroke="#5b4a45" stroke-width="0.8" opacity="0.8"/>
<ellipse cx="1166.7" cy="322.8" rx="4" ry="1.5" fill="#b7525a"/>
</g>
<g opacity="0.95"><ellipse cx="1094" cy="265.4" rx="3.4" ry="3.7" fill="none" stroke="#f1f7f3" stroke-width="1"/><ellipse cx="1094" cy="265.2" rx="1.5" ry="1.6" fill="#dfeee5"/>
<path d="M1090.8 269.4 L1097.2 269.4" stroke="#f1f7f3" stroke-width="0.8"/>
<rect x="1099.4" y="262.9" width="20.5" height="2.6" fill="#e8f2ec" opacity="0.85"/><rect x="1120.6" y="263.6" width="8.2" height="1.7" fill="#dcebe2" opacity="0.7"/>
<rect x="1099.4" y="266.6" width="29.4" height="0.5" fill="#d5e6dc" opacity="0.8"/><rect x="1099.4" y="267.9" width="17" height="1.1" fill="#d5e6dc" opacity="0.75"/></g>
<text class="sa" x="1136.70" y="267.40" font-size="4.55" fill="#fff" text-anchor="start" font-weight="bold" letter-spacing="0.08" >中国式现代化与美丽中国建设研讨会</text>
<path d="M1084.8 345.2 L1115.4 345.2 Q1117.7 345.2 1117.7 347.6 L1117.7 358.2 L1084.8 358.2 Z" fill="#1d4531" opacity="0.86"/>
<rect x="1089.9" y="346.8" width="4.6" height="7.8" rx="2.3" fill="#3fdd68"/>
<path d="M1088.2 351.6 C1088.2 357.6 1096.2 357.6 1096.2 351.6 M1092.2 356.1 L1092.2 357.6" stroke="#d6ddd8" stroke-width="0.8" fill="none"/>
<text class="sa" x="1100.20" y="355.40" font-size="7.5" fill="#fff" text-anchor="start" font-weight="bold" >庞军</text>
</g>
<rect x="1082.3" y="256.2" width="183.1" height="102.5" rx="2" fill="none" stroke="#22b458" stroke-width="1"/>
</g>
</svg>
</body></html>
